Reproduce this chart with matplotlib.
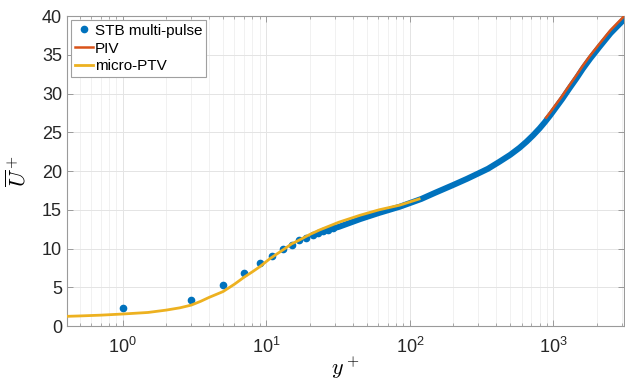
import matplotlib
matplotlib.use("Agg")
import matplotlib.pyplot as plt
from matplotlib.ticker import LogLocator, NullFormatter

plt.rcParams['font.family'] = ['Liberation Sans', 'DejaVu Sans']
plt.rcParams['mathtext.fontset'] = 'cm'

# STB multi-pulse, near-wall points (individually visible)
stb_y = [1, 3, 5, 7, 9, 11, 13, 15, 17, 19, 21, 23, 25, 27, 29]
stb_u = [2.36, 3.39, 5.25, 6.88, 8.17, 9.1, 9.95, 10.5, 11.05, 11.4, 11.8, 12.05, 12.25, 12.45, 12.6]

# STB multi-pulse, dense part (points merge into a band)
stb_band_y = [25, 32, 45, 61, 85, 120, 150, 200, 250, 300, 350, 420, 500, 580, 650, 720,
              800, 870, 950, 1050, 1150, 1283, 1450, 1600, 1800, 2085, 2500, 3110]
stb_band_u = [12.25, 12.8, 13.8, 14.6, 15.4, 16.4, 17.2, 18.2, 19.0, 19.7, 20.3, 21.2,
              22.1, 23.0, 23.8, 24.6, 25.5, 26.3, 27.2, 28.3, 29.3, 30.6, 32.0, 33.2,
              34.5, 36.0, 37.8, 39.6]

# PIV
piv_y = [888, 950, 1050, 1150, 1283, 1450, 1600, 1800, 2085, 2500, 3110]
piv_u = [26.9, 27.6, 28.7, 29.7, 31.0, 32.4, 33.6, 34.9, 36.4, 38.2, 40.0]

# micro-PTV
ptv_y = [0.41, 0.5, 0.7, 1, 1.5, 2, 2.5, 3, 3.5, 4, 5, 6, 7, 8, 9, 10.6, 13, 15, 17, 20,
         23.5, 32, 45, 61, 85, 116]
ptv_u = [1.25, 1.3, 1.4, 1.55, 1.75, 2.05, 2.35, 2.7, 3.2, 3.7, 4.45, 5.4, 6.3, 7.0, 7.65,
         8.7, 9.8, 10.6, 11.1, 11.8, 12.4, 13.4, 14.3, 15.0, 15.6, 16.4]

blue = '#0072BD'
red = '#D95319'
yellow = '#EDB120'
axcol = '#9a9a9a'

fig = plt.figure(figsize=(6.25, 3.84), dpi=100)
ax = fig.add_axes([0.107, 0.151, 0.892, 0.807])

ax.plot(stb_y, stb_u, '.', color=blue, markersize=9, label='STB multi-pulse', zorder=3)
ax.plot(stb_band_y, stb_band_u, '-', color=blue, lw=4.3, solid_capstyle='round',
        solid_joinstyle='round', zorder=3)
ax.plot(piv_y, piv_u, '-', color=red, lw=1.8, label='PIV', zorder=4)
ax.plot(ptv_y, ptv_u, '-', color=yellow, lw=2.0, label='micro-PTV', zorder=5)

ax.set_xscale('log')
ax.set_xlim(0.408, 3119)
ax.set_ylim(0, 40)
ax.set_yticks(range(0, 41, 5))
ax.xaxis.set_major_locator(LogLocator(base=10, numticks=10))
ax.xaxis.set_minor_locator(LogLocator(base=10, subs=range(2, 10), numticks=20))
ax.xaxis.set_minor_formatter(NullFormatter())

ax.grid(True, which='major', color='#e4e4e4', lw=0.7)
ax.grid(True, which='minor', axis='x', color='#efefef', lw=0.6)
ax.set_axisbelow(True)

for s in ax.spines.values():
    s.set_color(axcol)
    s.set_linewidth(0.8)
ax.tick_params(which='both', direction='in', top=True, right=True, color=axcol,
               labelsize=13, labelcolor='#262626')
ax.tick_params(which='major', length=4, width=0.7)
ax.tick_params(which='minor', length=2.2, width=0.6)
ax.tick_params(axis='x', pad=8)

ax.set_xlabel('$y^+$', fontsize=16, labelpad=-2)
ax.set_ylabel(r'$\overline{U}^+$', fontsize=16, labelpad=8)

leg = ax.legend(loc='upper left', fontsize=11, handlelength=1.2, handletextpad=0.15,
                borderaxespad=0.25, borderpad=0.25, labelspacing=0.25, fancybox=False,
                framealpha=1, edgecolor='#a0a0a0')
leg.get_frame().set_linewidth(0.8)

fig.savefig('out.png', dpi=100)
